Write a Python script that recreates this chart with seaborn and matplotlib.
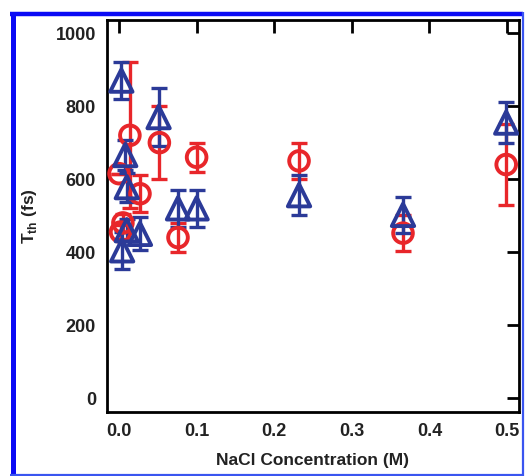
import matplotlib
matplotlib.use("Agg")
import matplotlib.pyplot as plt
import seaborn as sns
import pandas as pd
from matplotlib.lines import Line2D

# Red circles series
red_x = [0.000, 0.002, 0.005, 0.014, 0.027, 0.052, 0.076, 0.100, 0.232, 0.366, 0.499]
red_y = [615, 455, 480, 720, 560, 700, 440, 660, 650, 452, 640]
red_err = [0, 20, 25, 200, 50, 100, 40, 40, 50, 50, 110]

# Blue triangles series
blue_x = [0.003, 0.008, 0.010, 0.004, 0.010, 0.027, 0.051, 0.076, 0.100, 0.232, 0.366, 0.499]
blue_y = [870, 666, 578, 405, 460, 450, 770, 520, 520, 556, 502, 755]
blue_err = [50, 40, 40, 50, 30, 45, 80, 50, 50, 55, 50, 55]

x_ticks = [0.0, 0.1, 0.2, 0.3, 0.4, 0.5]
y_ticks = [0, 200, 400, 600, 800, 1000]

RED = "#e8262a"
BLUE = "#2b3a98"

sns.set_style("white")
plt.rcParams["font.family"] = ["Liberation Sans", "DejaVu Sans"]
plt.rcParams["font.weight"] = "bold"
plt.rcParams["mathtext.fontset"] = "custom"
plt.rcParams["mathtext.bf"] = "Liberation Sans:bold"

W, H = 525, 476
fig = plt.figure(figsize=(W / 100, H / 100), dpi=100)
ax = fig.add_axes([107 / W, 1 - 412 / H, (519 - 107) / W, (412 - 20) / H])

red_df = pd.DataFrame({"x": red_x, "y": red_y, "e": red_err})
blue_df = pd.DataFrame({"x": blue_x, "y": blue_y, "e": blue_err})

for df, col, mk, s in [(red_df, RED, "o", 200), (blue_df, BLUE, "^", 260)]:
    ax.errorbar(df["x"], df["y"], yerr=df["e"], fmt="none", ecolor=col,
                elinewidth=2.4, capsize=5.5, capthick=2.4, zorder=2)
    sns.scatterplot(data=df, x="x", y="y", ax=ax, marker=mk, s=s,
                    facecolor="none", edgecolor=col, linewidth=2.8, zorder=3,
                    legend=False)

ax.set_xlim(-0.0155, 0.5155)
ax.set_ylim(-38, 1036)
ax.set_xticks(x_ticks)
ax.set_xticklabels([f"{t:.1f}" for t in x_ticks])
ax.set_yticks(y_ticks)
ax.set_yticklabels([str(t) for t in y_ticks])
ax.tick_params(direction="in", length=9, width=2, top=True, right=True,
               labelsize=13, pad=8, colors="black")
for lab in ax.get_xticklabels() + ax.get_yticklabels():
    lab.set_fontweight("bold")
    lab.set_color("#222222")
for sp in ax.spines.values():
    sp.set_linewidth(2)
    sp.set_color("black")

ax.set_xlabel("NaCl Concentration (M)", fontsize=12.5, fontweight="bold", labelpad=9, color="#222222")
ax.set_ylabel(r"$\mathbf{T}_{\mathbf{th}}$ (fs)", fontsize=12.5, fontweight="bold", labelpad=12, color="#222222")

def px(x, y):
    return x / W, 1 - y / H

# Figure border: thick on left/top, thin on right/bottom
for (x0, y0, x1, y1, lw, c) in [
    (12.5, 12, 12.5, 476, 3.6, "#0a0af5"),
    (10, 14, 523, 14, 3.2, "#0a0af5"),
    (522.5, 12, 522.5, 476, 1.6, "#3a55f0"),
    (10, 474.8, 523, 474.8, 1.6, "#3a55f0"),
]:
    (a, b), (c2, d) = px(x0, y0), px(x1, y1)
    fig.add_artist(Line2D([a, c2], [b, d], transform=fig.transFigure,
                          color=c, linewidth=lw, solid_capstyle="butt"))

fig.savefig("out.png", dpi=100)
